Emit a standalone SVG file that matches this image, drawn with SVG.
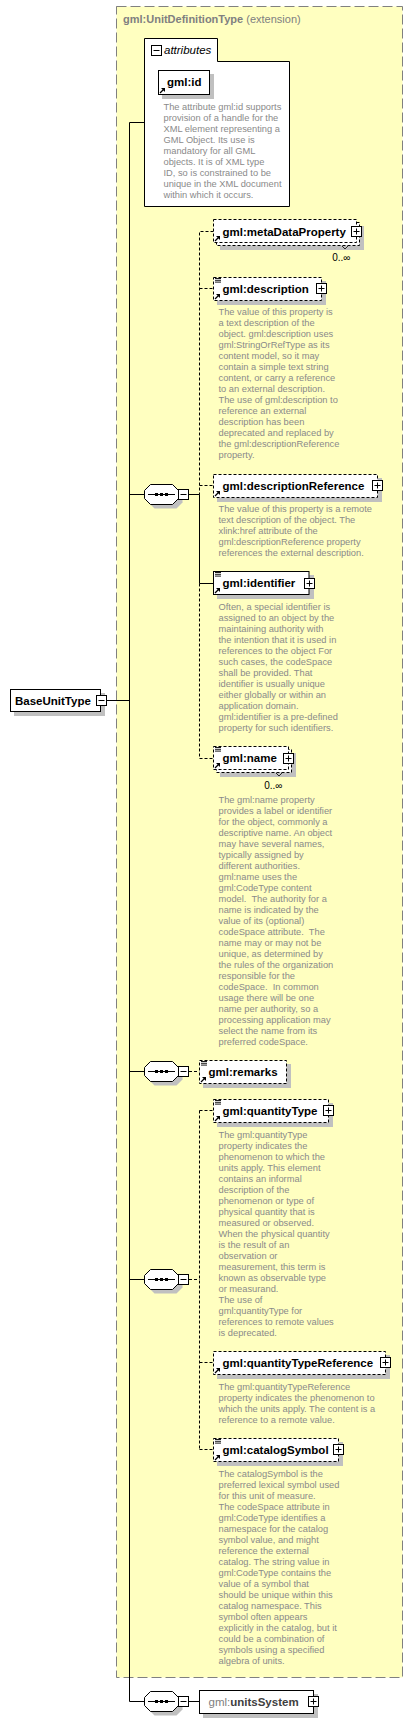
<svg xmlns="http://www.w3.org/2000/svg" xmlns:xlink="http://www.w3.org/1999/xlink" width="413" height="1724" viewBox="0 0 413 1724">
<style>
.d{font-family:"Liberation Sans",Arial,sans-serif;font-size:9.3px;fill:#8a8a8a}
.l{font-family:"Liberation Sans",Arial,sans-serif;font-size:11.5px;font-weight:bold;fill:#000}
.c{font-family:"Liberation Sans",Arial,sans-serif;font-size:10px;fill:#000}
.b{fill:#fff;stroke:#000}
.o{stroke-dasharray:3,2}
.sh{fill:#c0c0c0}
.cn{fill:none;stroke:#000}
.dh{stroke-dasharray:3,2}
</style>
<defs>
<g id="pl"><rect x="0.5" y="0.5" width="10" height="10" fill="#fff" stroke="#000"/><path d="M2.5,5.5h6M5.5,2.5v6" stroke="#000" fill="none"/></g>
<g id="mi"><rect x="0.5" y="0.5" width="10" height="10" fill="#fff" stroke="#000"/><path d="M2.5,5.5h6" stroke="#000" fill="none"/></g>
<g id="eq"><path d="M0,1.5h6M0,3.3h6M0,5.1h6" stroke="#000" stroke-width="0.9"/></g>
<g id="ar"><path d="M1,6L4.5,2.5" stroke="#000" stroke-width="1.2"/><path d="M2,1H6V5Z" fill="#000"/></g>
<g id="seq">
<polygon class="sh" points="10.5,4.5 32.5,4.5 38.5,10.5 38.5,18.5 32.5,24.5 10.5,24.5 4.5,18.5 4.5,10.5"/>
<polygon class="b" points="6.5,0.5 28.5,0.5 34.5,6.5 34.5,14.5 28.5,20.5 6.5,20.5 0.5,14.5 0.5,6.5"/>
<path d="M4,10.5H31" stroke="#000"/>
<rect x="11" y="9" width="3" height="3"/><rect x="16" y="9" width="3" height="3"/><rect x="21" y="9" width="3" height="3"/>
<use xlink:href="#mi" x="34" y="5"/>
</g>
</defs>
<rect x="0" y="0" width="413" height="1724" fill="#fff"/>

<g id="extension">
<rect x="116.5" y="6.5" width="286" height="1671" fill="#ffffc0" stroke="#808080" stroke-dasharray="10,4"/>
<text x="123" y="23" style="font-family:'Liberation Sans',Arial,sans-serif;font-size:11px;fill:#808080"><tspan font-weight="bold">gml:UnitDefinitionType</tspan> (extension)</text>
</g>

<g id="connectors" class="cn">
<path d="M144.5,122.5H129.5V1701.5H144.5"/>
<path d="M106.5,700.5H129.5M129.5,494.5H144.5M129.5,1071.5H144.5M129.5,1279.5H144.5"/>
<path d="M189,494.5H199.5V583.5H213.5"/>
<path class="dh" d="M213.5,231.5H199.5V494.5M199.5,288.5H213.5M199.5,485.5H213.5"/>
<path class="dh" d="M199.5,583.5V758.5H213.5"/>
<path class="dh" d="M189,1071.5H199.5"/>
<path class="dh" d="M189,1279.5H199.5M199.5,1110.5V1449.5M199.5,1110.5H213.5M199.5,1362.5H213.5M199.5,1449.5H213.5"/>
<path d="M189,1701.5H199.5"/>
</g>

<g id="BaseUnitType">
<rect class="sh" x="14" y="693" width="91" height="23"/>
<rect class="b" x="10.5" y="689.5" width="90" height="22"/>
<text class="l" x="15" y="704.5">BaseUnitType</text>
<use xlink:href="#mi" x="96" y="695"/>
</g>

<g id="attributes">
<path class="b" d="M144.5,38.5H217.5V61.5H289.5V206.5H144.5Z"/>
<use xlink:href="#mi" x="151" y="45"/>
<text x="164" y="54" style="font-family:'Liberation Sans',Arial,sans-serif;font-size:11.5px;font-style:italic;fill:#000">attributes</text>
</g>

<g id="gml-id">
<rect class="sh" x="162" y="74" width="52" height="25"/>
<rect class="b" x="158.5" y="70.5" width="51" height="24"/>
<use xlink:href="#ar" x="159" y="87"/>
<text class="l" x="167" y="86">gml:id</text>
<text class="d" x="163.5" y="110"><tspan x="163.5">The attribute gml:id supports</tspan><tspan x="163.5" dy="11">provision of a handle for the</tspan><tspan x="163.5" dy="11">XML element representing a</tspan><tspan x="163.5" dy="11">GML Object. Its use is</tspan><tspan x="163.5" dy="11">mandatory for all GML</tspan><tspan x="163.5" dy="11">objects. It is of XML type</tspan><tspan x="163.5" dy="11">ID, so is constrained to be</tspan><tspan x="163.5" dy="11">unique in the XML document</tspan><tspan x="163.5" dy="11">within which it occurs.</tspan></text>
</g>

<g id="seq1"><use xlink:href="#seq" x="144" y="484"/></g>

<g id="metaDataProperty">
<rect class="sh" x="220" y="226" width="144" height="24"/>
<rect class="b o" x="216.5" y="222.5" width="143" height="23"/>
<rect class="b o" x="213.5" y="219.5" width="143" height="23"/>
<use xlink:href="#ar" x="214" y="235"/>
<text class="l" x="222.5" y="235.5">gml:metaDataProperty</text>
<use xlink:href="#pl" x="351" y="226"/>
<path d="M342,246l3,3l3,-3" fill="none" stroke="#000" stroke-width="0.8"/>
<text class="c" x="350.5" y="261" text-anchor="end">0..∞</text>
</g>

<g id="description">
<rect class="sh" x="217" y="281" width="109" height="24"/>
<rect class="b o" x="213.5" y="277.5" width="108" height="23"/>
<use xlink:href="#eq" x="215" y="277"/>
<use xlink:href="#ar" x="214" y="293"/>
<text class="l" x="222.5" y="292.5">gml:description</text>
<use xlink:href="#pl" x="316" y="283"/>
<text class="d" x="218.5" y="315"><tspan x="218.5">The value of this property is</tspan><tspan x="218.5" dy="11">a text description of the</tspan><tspan x="218.5" dy="11">object. gml:description uses</tspan><tspan x="218.5" dy="11">gml:StringOrRefType as its</tspan><tspan x="218.5" dy="11">content model, so it may</tspan><tspan x="218.5" dy="11">contain a simple text string</tspan><tspan x="218.5" dy="11">content, or carry a reference</tspan><tspan x="218.5" dy="11">to an external description.</tspan><tspan x="218.5" dy="11">The use of gml:description to</tspan><tspan x="218.5" dy="11">reference an external</tspan><tspan x="218.5" dy="11">description has been</tspan><tspan x="218.5" dy="11">deprecated and replaced by</tspan><tspan x="218.5" dy="11">the gml:descriptionReference</tspan><tspan x="218.5" dy="11">property.</tspan></text>
</g>

<g id="descriptionReference">
<rect class="sh" x="217" y="478" width="165" height="24"/>
<rect class="b o" x="213.5" y="474.5" width="164" height="23"/>
<use xlink:href="#ar" x="214" y="490"/>
<text class="l" x="222.5" y="489.5">gml:descriptionReference</text>
<use xlink:href="#pl" x="372" y="480"/>
<text class="d" x="218.5" y="512"><tspan x="218.5">The value of this property is a remote</tspan><tspan x="218.5" dy="11">text description of the object. The</tspan><tspan x="218.5" dy="11">xlink:href attribute of the</tspan><tspan x="218.5" dy="11">gml:descriptionReference property</tspan><tspan x="218.5" dy="11">references the external description.</tspan></text>
</g>

<g id="identifier">
<rect class="sh" x="217" y="575" width="97" height="24"/>
<rect class="b" x="213.5" y="571.5" width="95.5" height="23"/>
<use xlink:href="#eq" x="215" y="571"/>
<use xlink:href="#ar" x="214" y="587"/>
<text class="l" x="222.5" y="586.5">gml:identifier</text>
<use xlink:href="#pl" x="304" y="578"/>
<text class="d" x="218.5" y="610"><tspan x="218.5">Often, a special identifier is</tspan><tspan x="218.5" dy="11">assigned to an object by the</tspan><tspan x="218.5" dy="11">maintaining authority with</tspan><tspan x="218.5" dy="11">the intention that it is used in</tspan><tspan x="218.5" dy="11">references to the object For</tspan><tspan x="218.5" dy="11">such cases, the codeSpace</tspan><tspan x="218.5" dy="11">shall be provided. That</tspan><tspan x="218.5" dy="11">identifier is usually unique</tspan><tspan x="218.5" dy="11">either globally or within an</tspan><tspan x="218.5" dy="11">application domain.</tspan><tspan x="218.5" dy="11">gml:identifier is a pre-defined</tspan><tspan x="218.5" dy="11">property for such identifiers.</tspan></text>
</g>

<g id="name">
<rect class="sh" x="220" y="753" width="76" height="24"/>
<rect class="b o" x="216.5" y="749.5" width="75" height="23"/>
<rect class="b o" x="213.5" y="746.5" width="75" height="23"/>
<use xlink:href="#eq" x="215" y="746"/>
<use xlink:href="#ar" x="214" y="762"/>
<text class="l" x="222.5" y="762">gml:name</text>
<use xlink:href="#pl" x="283" y="753"/>
<path d="M276,773l3,3l3,-3" fill="none" stroke="#000" stroke-width="0.8"/>
<text class="c" x="282.5" y="788.5" text-anchor="end">0..∞</text>
<text class="d" x="218.5" y="803"><tspan x="218.5">The gml:name property</tspan><tspan x="218.5" dy="11">provides a label or identifier</tspan><tspan x="218.5" dy="11">for the object, commonly a</tspan><tspan x="218.5" dy="11">descriptive name. An object</tspan><tspan x="218.5" dy="11">may have several names,</tspan><tspan x="218.5" dy="11">typically assigned by</tspan><tspan x="218.5" dy="11">different authorities.</tspan><tspan x="218.5" dy="11">gml:name uses the</tspan><tspan x="218.5" dy="11">gml:CodeType content</tspan><tspan x="218.5" dy="11">model.&#160; The authority for a</tspan><tspan x="218.5" dy="11">name is indicated by the</tspan><tspan x="218.5" dy="11">value of its (optional)</tspan><tspan x="218.5" dy="11">codeSpace attribute.&#160; The</tspan><tspan x="218.5" dy="11">name may or may not be</tspan><tspan x="218.5" dy="11">unique, as determined by</tspan><tspan x="218.5" dy="11">the rules of the organization</tspan><tspan x="218.5" dy="11">responsible for the</tspan><tspan x="218.5" dy="11">codeSpace.&#160; In common</tspan><tspan x="218.5" dy="11">usage there will be one</tspan><tspan x="218.5" dy="11">name per authority, so a</tspan><tspan x="218.5" dy="11">processing application may</tspan><tspan x="218.5" dy="11">select the name from its</tspan><tspan x="218.5" dy="11">preferred codeSpace.</tspan></text>
</g>

<g id="seq2"><use xlink:href="#seq" x="144" y="1061"/></g>

<g id="remarks">
<rect class="sh" x="203" y="1064" width="88" height="24"/>
<rect class="b o" x="199.5" y="1060.5" width="87" height="23"/>
<use xlink:href="#eq" x="201" y="1060"/>
<use xlink:href="#ar" x="200" y="1076"/>
<text class="l" x="208.5" y="1075.5">gml:remarks</text>
</g>

<g id="seq3"><use xlink:href="#seq" x="144" y="1269"/></g>

<g id="quantityType">
<rect class="sh" x="217" y="1103" width="116" height="24"/>
<rect class="b o" x="213.5" y="1099.5" width="115" height="23"/>
<use xlink:href="#eq" x="215" y="1099"/>
<use xlink:href="#ar" x="214" y="1115"/>
<text class="l" x="222.5" y="1114.5">gml:quantityType</text>
<use xlink:href="#pl" x="323" y="1105"/>
<text class="d" x="218.5" y="1137.5"><tspan x="218.5">The gml:quantityType</tspan><tspan x="218.5" dy="11">property indicates the</tspan><tspan x="218.5" dy="11">phenomenon to which the</tspan><tspan x="218.5" dy="11">units apply. This element</tspan><tspan x="218.5" dy="11">contains an informal</tspan><tspan x="218.5" dy="11">description of the</tspan><tspan x="218.5" dy="11">phenomenon or type of</tspan><tspan x="218.5" dy="11">physical quantity that is</tspan><tspan x="218.5" dy="11">measured or observed.</tspan><tspan x="218.5" dy="11">When the physical quantity</tspan><tspan x="218.5" dy="11">is the result of an</tspan><tspan x="218.5" dy="11">observation or</tspan><tspan x="218.5" dy="11">measurement, this term is</tspan><tspan x="218.5" dy="11">known as observable type</tspan><tspan x="218.5" dy="11">or measurand.</tspan><tspan x="218.5" dy="11">The use of</tspan><tspan x="218.5" dy="11">gml:quantityType for</tspan><tspan x="218.5" dy="11">references to remote values</tspan><tspan x="218.5" dy="11">is deprecated.</tspan></text>
</g>

<g id="quantityTypeReference">
<rect class="sh" x="217" y="1355" width="173" height="24"/>
<rect class="b o" x="213.5" y="1351.5" width="172" height="23"/>
<use xlink:href="#ar" x="214" y="1367"/>
<text class="l" x="222.5" y="1366.5">gml:quantityTypeReference</text>
<use xlink:href="#pl" x="380" y="1357"/>
<text class="d" x="218.5" y="1390"><tspan x="218.5">The gml:quantityTypeReference</tspan><tspan x="218.5" dy="11">property indicates the phenomenon to</tspan><tspan x="218.5" dy="11">which the units apply. The content is a</tspan><tspan x="218.5" dy="11">reference to a remote value.</tspan></text>
</g>

<g id="catalogSymbol">
<rect class="sh" x="217" y="1442" width="126" height="24"/>
<rect class="b o" x="213.5" y="1438.5" width="125" height="23"/>
<use xlink:href="#eq" x="215" y="1438"/>
<use xlink:href="#ar" x="214" y="1454"/>
<text class="l" x="222.5" y="1453.5">gml:catalogSymbol</text>
<use xlink:href="#pl" x="333" y="1444"/>
<text class="d" x="218.5" y="1476.5"><tspan x="218.5">The catalogSymbol is the</tspan><tspan x="218.5" dy="11">preferred lexical symbol used</tspan><tspan x="218.5" dy="11">for this unit of measure.</tspan><tspan x="218.5" dy="11">The codeSpace attribute in</tspan><tspan x="218.5" dy="11">gml:CodeType identifies a</tspan><tspan x="218.5" dy="11">namespace for the catalog</tspan><tspan x="218.5" dy="11">symbol value, and might</tspan><tspan x="218.5" dy="11">reference the external</tspan><tspan x="218.5" dy="11">catalog. The string value in</tspan><tspan x="218.5" dy="11">gml:CodeType contains the</tspan><tspan x="218.5" dy="11">value of a symbol that</tspan><tspan x="218.5" dy="11">should be unique within this</tspan><tspan x="218.5" dy="11">catalog namespace. This</tspan><tspan x="218.5" dy="11">symbol often appears</tspan><tspan x="218.5" dy="11">explicitly in the catalog, but it</tspan><tspan x="218.5" dy="11">could be a combination of</tspan><tspan x="218.5" dy="11">symbols using a specified</tspan><tspan x="218.5" dy="11">algebra of units.</tspan></text>
</g>

<g id="seq4"><use xlink:href="#seq" x="144" y="1691"/></g>

<g id="unitsSystem">
<rect class="sh" x="203" y="1694" width="115" height="24"/>
<rect class="b" x="199.5" y="1690.5" width="114" height="23"/>
<text x="208.5" y="1706" style="font-family:'Liberation Sans',Arial,sans-serif;font-size:11.5px;fill:#808080">gml:<tspan font-weight="bold" fill="#404040">unitsSystem</tspan></text>
<use xlink:href="#pl" x="308" y="1696"/>
</g>
</svg>
